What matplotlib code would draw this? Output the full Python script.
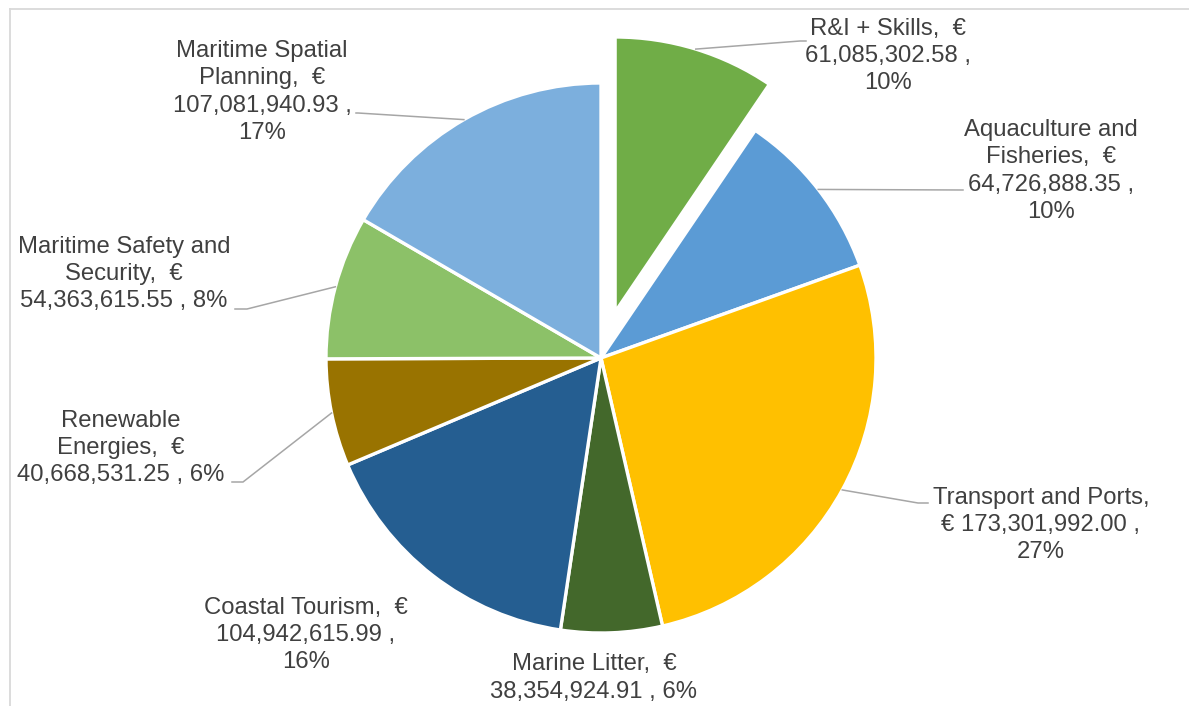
import numpy as np
import matplotlib.pyplot as plt
from matplotlib.lines import Line2D

names = [
    "R&I + Skills",
    "Aquaculture and\nFisheries",
    "Transport and Ports",
    "Marine Litter",
    "Coastal Tourism",
    "Renewable\nEnergies",
    "Maritime Safety and\nSecurity",
    "Maritime Spatial\nPlanning",
]
values = np.array([
    61085302.58,
    64726888.35,
    173301992.00,
    38354924.91,
    104942615.99,
    40668531.25,
    54363615.55,
    107081940.93,
])
colors = ["#70AD47", "#5B9BD5", "#FFC000", "#43682B",
          "#255E91", "#997300", "#8CC168", "#7CAFDD"]
explode = [0.175, 0, 0, 0, 0, 0, 0, 0]

# label layout: how the lines break and where each text block sits (pixels from top-left)
templates = [
    "{name},  €\n{val} ,\n{pct}",
    "{name},  €\n{val} ,\n{pct}",
    "{name},\n€ {val} ,\n{pct}",
    "{name},  €\n{val} , {pct}",
    "{name},  €\n{val} ,\n{pct}",
    "{name},  €\n{val} , {pct}",
    "{name},  €\n{val} , {pct}",
    "{name},  €\n{val} ,\n{pct}",
]
label_pos = [(888, 56), (1051, 171), (1041, 525), (594, 678),
             (306, 635), (121, 448), (124, 274), (262, 92)]
# leader lines: elbow point and end point (pixels), None = no leader
leaders = [((800, 41), (806, 41)), ((963, 190), (963, 190)),
           ((918, 503), (928, 503)), None, None,
           ((243, 482), (232, 482)), ((247, 309), (235, 309)),
           ((358, 113), (356, 113))]

W, H = 1189, 706
cx, cy, R = 601, 358, 275


def px(x, y):
    return (x - cx) / R, (cy - y) / R


# percentages rounded so they add to 100 (largest remainder)
raw = values / values.sum() * 100
pct = np.floor(raw).astype(int)
order = np.argsort(-(raw - pct))
for i in order[:100 - pct.sum()]:
    pct[i] += 1

fig = plt.figure(figsize=(W / 100, H / 100), dpi=100)
ax = fig.add_axes([0, 0, 1, 1])

wedges, _ = ax.pie(values, colors=colors, explode=explode, startangle=90,
                   counterclock=False, radius=1,
                   wedgeprops=dict(edgecolor="white", linewidth=2.4))

ax.set_xlim(-cx / R, (W - cx) / R)
ax.set_ylim(-(H - cy) / R, cy / R)
ax.set_aspect("equal")
ax.axis("off")

for i, w in enumerate(wedges):
    txt = templates[i].format(name=names[i], val=f"{values[i]:,.2f}",
                              pct=f"{pct[i]}%")
    tx, ty = px(*label_pos[i])
    ax.text(tx, ty, txt, ha="center", va="center", fontsize=17.2,
            family="Liberation Sans", color="#404040", linespacing=1.32)
    if leaders[i] is not None:
        mid = np.deg2rad((w.theta1 + w.theta2) / 2)
        ox, oy = w.center
        sx, sy = ox + np.cos(mid), oy + np.sin(mid)
        ex, ey = px(*leaders[i][0])
        fx, fy = px(*leaders[i][1])
        ax.plot([sx, ex, fx], [sy, ey, fy], color="#A6A6A6", lw=1.1,
                solid_joinstyle="miter")

# chart frame (only top and left edges visible)
fig.add_artist(Line2D([9.5 / W, 1], [1 - 8.5 / H, 1 - 8.5 / H],
                      color="#D9D9D9", lw=1.3))
fig.add_artist(Line2D([9.5 / W, 9.5 / W], [0, 1 - 8.5 / H],
                      color="#D9D9D9", lw=1.3))

plt.savefig("out.png", dpi=100)
